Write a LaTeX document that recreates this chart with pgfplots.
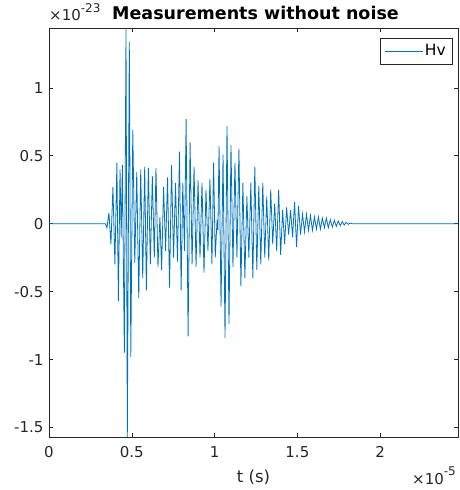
\documentclass[border=0pt]{standalone}
\usepackage{pgfplots}
\pgfplotsset{compat=1.18}
\usepackage{fontspec}
\setmainfont{DejaVu Sans}
\definecolor{mblue}{rgb}{0,0.447,0.741}
\definecolor{mgray}{rgb}{0.15,0.15,0.15}
\newcommand{\sexp}[1]{\raisebox{0.55em}{\fontsize{12}{13}\selectfont #1}}
\begin{document}
\begin{tikzpicture}
\begin{axis}[
  scale only axis,
  width=409pt, height=409pt,
  xmin=0, xmax=2.47, ymin=-1.57, ymax=1.44,
  xtick={0,0.5,1,1.5,2}, xticklabels={0,0.5,1,1.5,2},
  ytick={-1.5,-1,-0.5,0,0.5,1}, yticklabels={-1.5,-1,-0.5,0,0.5,1},
  /pgf/number format/assume math mode=true,
  tick align=inside, tick pos=both,
  major tick length=4pt,
  axis line style={mgray, line width=0.5pt},
  every tick/.style={mgray, line width=0.5pt},
  tick label style={font=\fontsize{15}{17}\selectfont, text=mgray},
  xticklabel style={yshift=-6pt},
  yticklabel style={xshift=-2pt},
  xlabel={t (s)},
  xlabel style={font=\fontsize{16.5}{18}\selectfont, text=mgray, yshift=-5pt},
  legend style={at={(1,1)}, anchor=north east, xshift=-6pt, yshift=-10pt,
    draw=none, fill=white, name=hvlegend, font=\fontsize{15.5}{17}\selectfont,
    inner xsep=4pt, inner ysep=4.5pt},
  legend cell align=left,
  legend image code/.code={\draw[#1, line width=0.9pt] plot coordinates {(0pt,0pt) (38pt,0pt)};},
  clip=true,
]
\addplot[mblue, line width=0.8pt] coordinates {
(0,0) (0.340,0) (0.350,-0.03) (0.362,0.08) (0.374,-0.15) (0.386,0.27) (0.398,-0.30)
(0.410,0.45) (0.419,-0.57) (0.429,0.40) (0.436,-0.10) (0.443,0.43) (0.455,-0.95)
(0.465,1.44) (0.473,-1.57) (0.485,1.34) (0.494,-0.98) (0.506,0.69) (0.518,-0.29)
(0.530,0.38) (0.542,-0.55) (0.554,0.40) (0.566,-0.40) (0.578,0.42) (0.588,-0.49)
(0.600,0.41) (0.612,-0.30) (0.624,0.35) (0.636,-0.25) (0.646,0.41) (0.658,-0.32)
(0.670,0.05) (0.680,-0.34) (0.692,0.27) (0.704,-0.20) (0.716,0.34) (0.728,-0.47)
(0.740,0.43) (0.752,-0.25) (0.764,0.30) (0.776,-0.28) (0.788,0.53) (0.798,-0.49)
(0.808,0.30) (0.818,-0.20) (0.828,0.77) (0.840,-0.83) (0.852,0.60) (0.864,-0.30)
(0.876,0.42) (0.888,-0.32) (0.900,0.32) (0.912,-0.25) (0.924,0.30) (0.936,-0.36)
(0.948,0.25) (0.960,-0.20) (0.972,0.33) (0.984,-0.30) (0.994,0.45) (1.004,-0.25)
(1.015,0.03) (1.020,-0.05) (1.027,0.57) (1.039,-0.61) (1.051,0.51) (1.063,-0.84)
(1.075,0.72) (1.087,-0.74) (1.099,0.58) (1.111,-0.32) (1.123,0.45) (1.135,-0.25)
(1.147,0.55) (1.159,-0.46) (1.171,0.30) (1.183,-0.40) (1.195,0.20) (1.207,-0.25)
(1.219,0.30) (1.231,-0.40) (1.243,0.42) (1.255,-0.34) (1.267,0.28) (1.279,-0.30)
(1.291,0.30) (1.303,-0.25) (1.315,0.20) (1.327,-0.27) (1.339,0.25) (1.351,-0.15)
(1.363,0.15) (1.375,-0.20) (1.387,0.25) (1.399,-0.23) (1.411,0.10) (1.423,-0.15)
(1.435,0.12) (1.447,-0.08) (1.459,0.10) (1.471,-0.10) (1.483,0.16) (1.495,-0.17)
(1.507,0.13) (1.519,-0.08) (1.531,0.07) (1.543,-0.06) (1.555,0.07) (1.567,-0.05)
(1.579,0.06) (1.591,-0.05) (1.603,0.05) (1.615,-0.04) (1.627,0.05) (1.639,-0.04)
(1.651,0.04) (1.663,-0.03) (1.675,0.04) (1.687,-0.03) (1.699,0.03) (1.711,-0.025)
(1.723,0.025) (1.735,-0.02) (1.747,0.02) (1.759,-0.015) (1.771,0.015) (1.783,-0.01)
(1.795,0.01) (1.807,-0.005) (1.819,0.005) (1.830,0) (2.47,0)
};
\addlegendentry{Hv}
\end{axis}
\draw[mgray, line width=0.5pt] (hvlegend.south west) rectangle (hvlegend.north east);
\node[anchor=base west, text=mgray, font=\fontsize{15}{17}\selectfont, inner sep=0pt]
  at ([xshift=0pt, yshift=7pt]current axis.north west) {×10\sexp{-23}};
\node[anchor=base, text=black, font=\fontsize{17.5}{19}\selectfont\bfseries, inner sep=0pt]
  at ([xshift=2pt, yshift=8pt]current axis.north) {Measurements without noise};
\node[anchor=base east, text=mgray, font=\fontsize{15}{17}\selectfont, inner sep=0pt]
  at ([xshift=-2pt, yshift=-47pt]current axis.south east) {×10\sexp{-5}};
\pgfresetboundingbox
\path ([xshift=-49pt, yshift=-53pt]current axis.south west) rectangle ([xshift=2pt, yshift=28pt]current axis.north east);
\end{tikzpicture}
\end{document}
